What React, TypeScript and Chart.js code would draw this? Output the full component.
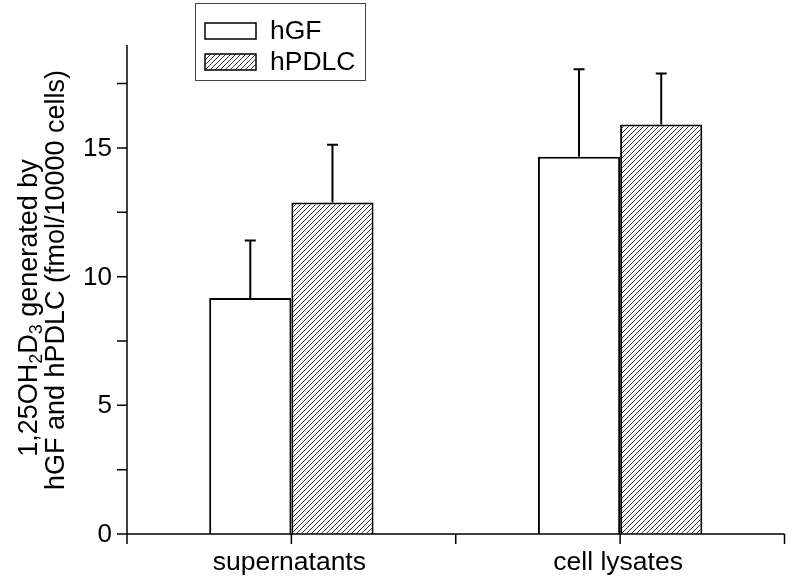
import React, { useEffect, useRef } from "react";
import { Chart, registerables } from "chart.js";
Chart.register(...registerables);

const categories = ["supernatants", "cell lysates"];
const seriesNames = ["hGF", "hPDLC"];
const hGF = [9.17, 14.66];
const hPDLC = [12.88, 15.91];
const hGFErr = [2.23, 3.4];
const hPDLCErr = [2.24, 1.98];
const yMajorTicks = [0, 5, 10, 15];
const yMinorTicks = [2.5, 7.5, 12.5, 17.5];
const yMax = 19;
const titleLine1: [string, boolean][] = [["1,25OH", false], ["2", true], ["D", false], ["3", true], [" generated by", false]];
const titleLine2 = "hGF and hPDLC (fmol/10000 cells)";

const FONT = "'Liberation Sans', Arial, sans-serif";

function makeHatch(ctx: CanvasRenderingContext2D) {
  const s = 5;
  const c = document.createElement("canvas");
  c.width = s;
  c.height = s;
  const g = c.getContext("2d")!;
  g.fillStyle = "#fff";
  g.fillRect(0, 0, s, s);
  g.strokeStyle = "#333";
  g.lineWidth = 1;
  g.beginPath();
  g.moveTo(0, s);
  g.lineTo(s, 0);
  g.moveTo(-1, 1);
  g.lineTo(1, -1);
  g.moveTo(s - 1, s + 1);
  g.lineTo(s + 1, s - 1);
  g.stroke();
  return ctx.createPattern(c, "repeat")!;
}

export default function App() {
  const ref = useRef<HTMLCanvasElement | null>(null);
  useEffect(() => {
    const canvas = ref.current!;
    const ctx = canvas.getContext("2d")!;
    const hatch = makeHatch(ctx);
    const errs = [hGFErr, hPDLCErr];

    const decor = {
      id: "decor",
      afterDatasetsDraw(chart: any) {
        const c = chart.ctx as CanvasRenderingContext2D;
        const xs = chart.scales.x;
        const ys = chart.scales.y;
        const area = chart.chartArea;
        c.save();
        c.strokeStyle = "#000";
        c.fillStyle = "#000";
        // error bars
        c.lineWidth = 2;
        [0, 1].forEach((di) => {
          const meta = chart.getDatasetMeta(di);
          const vals = chart.data.datasets[di].data as number[];
          meta.data.forEach((bar: any, j: number) => {
            const x = bar.x;
            const y0 = ys.getPixelForValue(vals[j]);
            const y1 = ys.getPixelForValue(vals[j] + errs[di][j]);
            c.beginPath();
            c.moveTo(x, y0);
            c.lineTo(x, y1);
            c.moveTo(x - 5.5, y1);
            c.lineTo(x + 5.5, y1);
            c.stroke();
          });
        });
        // axes
        c.lineWidth = 1.5;
        c.beginPath();
        c.moveTo(area.left, area.top);
        c.lineTo(area.left, area.bottom);
        c.moveTo(area.left, area.bottom);
        c.lineTo(area.right, area.bottom);
        c.stroke();
        // y ticks
        const tl = 10;
        c.beginPath();
        [...yMajorTicks, ...yMinorTicks].forEach((v) => {
          const y = ys.getPixelForValue(v);
          c.moveTo(area.left - tl, y);
          c.lineTo(area.left, y);
        });
        // x ticks
        [-0.5, 0, 0.5, 1, 1.5].forEach((v) => {
          const x = xs.getPixelForValue(v);
          c.moveTo(x, area.bottom);
          c.lineTo(x, area.bottom + tl);
        });
        c.stroke();
        // y labels
        c.font = `26px ${FONT}`;
        c.textAlign = "right";
        c.textBaseline = "middle";
        yMajorTicks.forEach((v) => {
          c.fillText(String(v), area.left - tl - 5, ys.getPixelForValue(v) + 1);
        });
        // x labels
        c.font = `26.5px ${FONT}`;
        c.textAlign = "center";
        c.textBaseline = "alphabetic";
        categories.forEach((lab, i) => {
          c.fillText(lab, xs.getPixelForValue(i) - 2, 570);
        });
        // y title
        const drawRot = (segs: [string, boolean][], baseX: number, centerY: number) => {
          const main = `27px ${FONT}`;
          const sub = `18px ${FONT}`;
          let total = 0;
          segs.forEach(([t, s]) => {
            c.font = s ? sub : main;
            total += c.measureText(t).width;
          });
          c.save();
          c.translate(baseX, centerY + total / 2);
          c.rotate(-Math.PI / 2);
          c.textAlign = "left";
          c.textBaseline = "alphabetic";
          let pos = 0;
          segs.forEach(([t, s]) => {
            c.font = s ? sub : main;
            c.fillText(t, pos, s ? 5 : 0);
            pos += c.measureText(t).width;
          });
          c.restore();
        };
        drawRot(titleLine1, 37, 308);
        drawRot([[titleLine2, false]], 64, 280);
        // legend
        c.lineWidth = 1;
        c.strokeStyle = "#444";
        c.fillStyle = "#fff";
        c.fillRect(195.5, 3.5, 170, 77);
        c.strokeRect(195.5, 3.5, 170, 77);
        const rows = [31, 62];
        rows.forEach((cy, i) => {
          c.fillStyle = i === 0 ? "#fff" : (hatch as any);
          c.fillRect(205, cy - 8, 51, 16);
          c.strokeStyle = "#000";
          c.lineWidth = 1.5;
          c.strokeRect(205, cy - 8, 51, 16);
          c.fillStyle = "#000";
          c.font = `26.5px ${FONT}`;
          c.textAlign = "left";
          c.textBaseline = "middle";
          c.fillText(seriesNames[i], 270, cy + 1);
        });
        c.restore();
      },
    };

    const chart = new Chart(canvas, {
      type: "bar",
      data: {
        labels: categories,
        datasets: [
          { label: seriesNames[0], data: hGF, backgroundColor: "#fff", borderColor: "#000", borderWidth: 2, categoryPercentage: 0.5, barPercentage: 1 },
          { label: seriesNames[1], data: hPDLC, backgroundColor: hatch as any, borderColor: "#000", borderWidth: 2, categoryPercentage: 0.5, barPercentage: 1 },
        ],
      },
      options: {
        responsive: false,
        animation: false,
        layout: { padding: { left: 0, top: 45, right: 8.5, bottom: 0 } },
        plugins: { legend: { display: false }, tooltip: { enabled: false } },
        scales: {
          x: {
            grid: { display: false },
            border: { display: false },
            ticks: { display: false },
            afterFit: (s: any) => { s.height = 48; },
          },
          y: {
            min: 0,
            max: yMax,
            grid: { display: false },
            border: { display: false },
            ticks: { display: false },
            afterFit: (s: any) => { s.width = 127; },
          },
        },
      },
      plugins: [decor],
    });
    return () => chart.destroy();
  }, []);
  return (
    <div style={{ position: "fixed", left: 0, top: 0, width: 793, height: 582, background: "#fff" }}>
      <canvas ref={ref} width={793} height={582} style={{ width: 793, height: 582, display: "block" }} />
    </div>
  );
}
